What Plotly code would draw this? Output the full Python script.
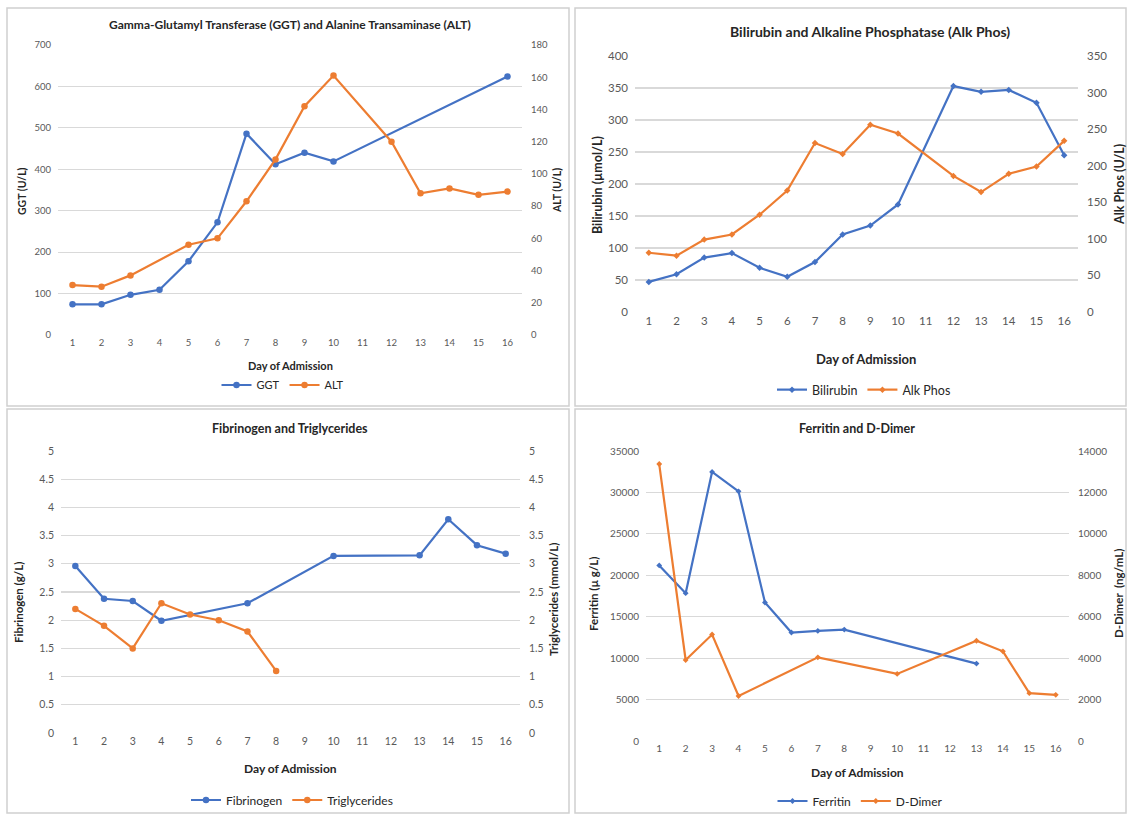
import plotly.graph_objects as go

W, H = 1129, 815

days = list(range(1, 17))
day_labels = [str(d) for d in days]

ggt = [74, 74, 97, 109, 178, 272, 486, 412, 440, 419, None, None, None, None, None, 624]
alt = [31, 30, 37, None, 56, 60, 83, 109, 142, 161, None, 120, 88, 91, 87, 89]

bilirubin = [47, 59, 85, 92, 69, 55, 78, 121, 135, 168, None, 353, 344, 347, 327, 245]
alk_phos = [81, 77, 99, 106, 133, 166, 231, 216, 256, 244, None, 186, 164, 189, 199, 234]

fibrinogen = [2.96, 2.38, 2.34, 1.99, None, None, 2.30, None, None, 3.14, None, None, 3.15, 3.79, 3.33, 3.18]
triglycerides = [2.2, 1.9, 1.5, 2.3, 2.1, 2.0, 1.8, 1.1, None, None, None, None, None, None, None, None]

ferritin = [21190, 17840, 32480, 30130, 16720, 13090, 13290, 13450, None, None, None, None, 9340, None, None, None]
d_dimer = [13370, 3910, 5140, 2170, None, None, 4040, None, None, 3240, None, None, 4840, 4330, 2310, 2230]

BLUE = "#4472C4"
ORANGE = "#ED7D31"
GRID = "#D9D9D9"
TICK = "#595959"
FONT = "Lato, Carlito, Calibri, sans-serif"


def px(x):
    return x / W


def py(y):
    return 1 - y / H


fig = go.Figure()


def add(name, y, xa, ya, color, legend, msize, symbol="circle"):
    fig.add_trace(go.Scatter(
        x=days, y=y, name=name, mode="lines+markers", connectgaps=True,
        line=dict(color=color, width=2.2),
        marker=dict(color=color, size=msize, symbol=symbol),
        xaxis=xa, yaxis=ya, legend=legend))


add("GGT", ggt, "x", "y", BLUE, "legend", 6.5)
add("ALT", alt, "x", "y2", ORANGE, "legend", 6.5)
add("Bilirubin", bilirubin, "x2", "y3", BLUE, "legend2", 5, "diamond")
add("Alk Phos", alk_phos, "x2", "y4", ORANGE, "legend2", 5, "diamond")
add("Fibrinogen", fibrinogen, "x3", "y5", BLUE, "legend3", 6.5)
add("Triglycerides", triglycerides, "x3", "y6", ORANGE, "legend3", 6.5)
add("Ferritin", ferritin, "x4", "y7", BLUE, "legend4", 4.5, "diamond")
add("D-Dimer", d_dimer, "x4", "y8", ORANGE, "legend4", 4.5, "diamond")

# panel geometry in pixels: (x0, x1, ytop, ybottom)
panels = {
    1: (58, 522, 45, 335),
    2: (635, 1078, 56, 312),
    3: (61, 520, 451, 733),
    4: (646, 1069, 451, 741),
}
tick_sizes = {1: 9.5, 2: 11.5, 3: 10.5, 4: 10}
left_rng = {1: (700, 100), 2: (400, 50), 3: (5, 0.5), 4: (35000, 5000)}
right_rng = {1: (180, 20), 2: (350, 50), 3: (5, 0.5), 4: (14000, 2000)}
tick_fmt = {1: "d", 2: "d", 3: "", 4: "d"}

layout = dict(
    width=W, height=H, margin=dict(l=0, r=0, t=0, b=0, autoexpand=False),
    plot_bgcolor="white", paper_bgcolor="white",
    font=dict(family=FONT, color=TICK),
    showlegend=True,
)

for i in range(1, 5):
    x0, x1, yt, yb = panels[i]
    xs = "" if i == 1 else str(i)
    yl = 2 * i - 1
    yr = 2 * i
    yl_name = "yaxis" if yl == 1 else f"yaxis{yl}"
    yr_name = f"yaxis{yr}"
    yl_ref = "y" if yl == 1 else f"y{yl}"
    xref = "x" if i == 1 else f"x{i}"
    ts = tick_sizes[i]
    layout["xaxis" + xs] = dict(
        domain=[px(x0), px(x1)], anchor=yl_ref, range=[0.5, 16.5],
        tickmode="array", tickvals=days, ticktext=day_labels,
        showgrid=False, zeroline=False, showline=False, ticks="",
        automargin=False,
        tickfont=dict(size=ts, color=TICK, family=FONT), fixedrange=True)
    lmax, ld = left_rng[i]
    rmax, rd = right_rng[i]
    layout[yl_name] = dict(
        domain=[py(yb), py(yt)], anchor=xref, range=[0, lmax], dtick=ld,
        tickformat=tick_fmt[i], automargin=False,
        showgrid=True, gridcolor=GRID, gridwidth=1.2, zeroline=False,
        showline=False, ticks="", ticklabelstandoff=6,
        tickfont=dict(size=ts, color=TICK, family=FONT))
    layout[yr_name] = dict(
        domain=[py(yb), py(yt)], anchor=xref, overlaying=yl_ref, side="right",
        range=[0, rmax], dtick=rd, tickformat=tick_fmt[i], automargin=False,
        showgrid=False, zeroline=False,
        showline=False, ticks="", ticklabelstandoff=8,
        tickfont=dict(size=ts, color=TICK, family=FONT))

legend_pos = {
    "legend": (283, 385, 11),
    "legend2": (864, 390, 12.5),
    "legend3": (292, 800, 12),
    "legend4": (860, 801, 12),
}
for k, (lx, ly, fs) in legend_pos.items():
    layout[k] = dict(
        x=px(lx), y=py(ly), xanchor="center", yanchor="middle",
        orientation="h", bgcolor="rgba(0,0,0,0)",
        font=dict(size=fs, color="#262626", family=FONT),
        itemwidth=30, tracegroupgap=0)

fig.update_layout(**layout)

annotations = []


def text(t, x, y, size, angle=0, color="#262626", bold=True):
    annotations.append(dict(
        text=f"<b>{t}</b>" if bold else t, x=px(x), y=py(y),
        xref="paper", yref="paper", showarrow=False, textangle=angle,
        xanchor="center", yanchor="middle",
        font=dict(size=size, color=color, family=FONT)))


text("Gamma-Glutamyl Transferase (GGT) and Alanine Transaminase (ALT)", 290, 24, 12)
text("Bilirubin and Alkaline Phosphatase (Alk Phos)", 870, 31, 14)
text("Fibrinogen and Triglycerides", 290, 429, 12.5)
text("Ferritin and D-Dimer", 857, 428, 12.5)

text("Day of Admission", 290, 365, 11)
text("Day of Admission", 866, 359, 13)
text("Day of Admission", 290, 768, 12)
text("Day of Admission", 857, 772, 12)

text("GGT (U/L)", 22, 191, 10.5, -90)
text("ALT (U/L)", 557, 191, 10.5, -90)
text("Bilirubin (µmol/L)", 597, 185, 12.5, -90)
text("Alk Phos (U/L)", 1119, 185, 12.5, -90)
text("Fibrinogen (g/L)", 18, 603, 11.5, -90)
text("Triglycerides (mmol/L)", 553, 600, 11.5, -90)
text("Ferritin (µ g/L)", 593, 594, 11.5, -90)
text("D-Dimer  (ng/mL)", 1118, 594, 11.5, -90)

fig.update_layout(annotations=annotations)

# chart area borders
boxes = [(7, 8, 569, 406), (575, 8, 1126, 406), (7, 409, 569, 813), (575, 409, 1126, 813)]
shapes = []
for (a, b, c, d) in boxes:
    shapes.append(dict(type="rect", xref="paper", yref="paper",
                       x0=px(a), x1=px(c), y0=py(d), y1=py(b),
                       line=dict(color="#D0D0D0", width=1.5)))
fig.update_layout(shapes=shapes)

fig.write_html("out.html", config={"displayModeBar": False, "staticPlot": True})

# pin the figure to the top-left corner of the window
css = ("<style>html,body{margin:0;padding:0;overflow:hidden;width:1129px;height:815px;}"
       ".plotly-graph-div{position:absolute;top:0;left:0;}</style>")
with open("out.html", "r", encoding="utf-8") as f:
    html = f.read()
html = html.replace("<head>", "<head>" + css, 1)
with open("out.html", "w", encoding="utf-8") as f:
    f.write(html)
